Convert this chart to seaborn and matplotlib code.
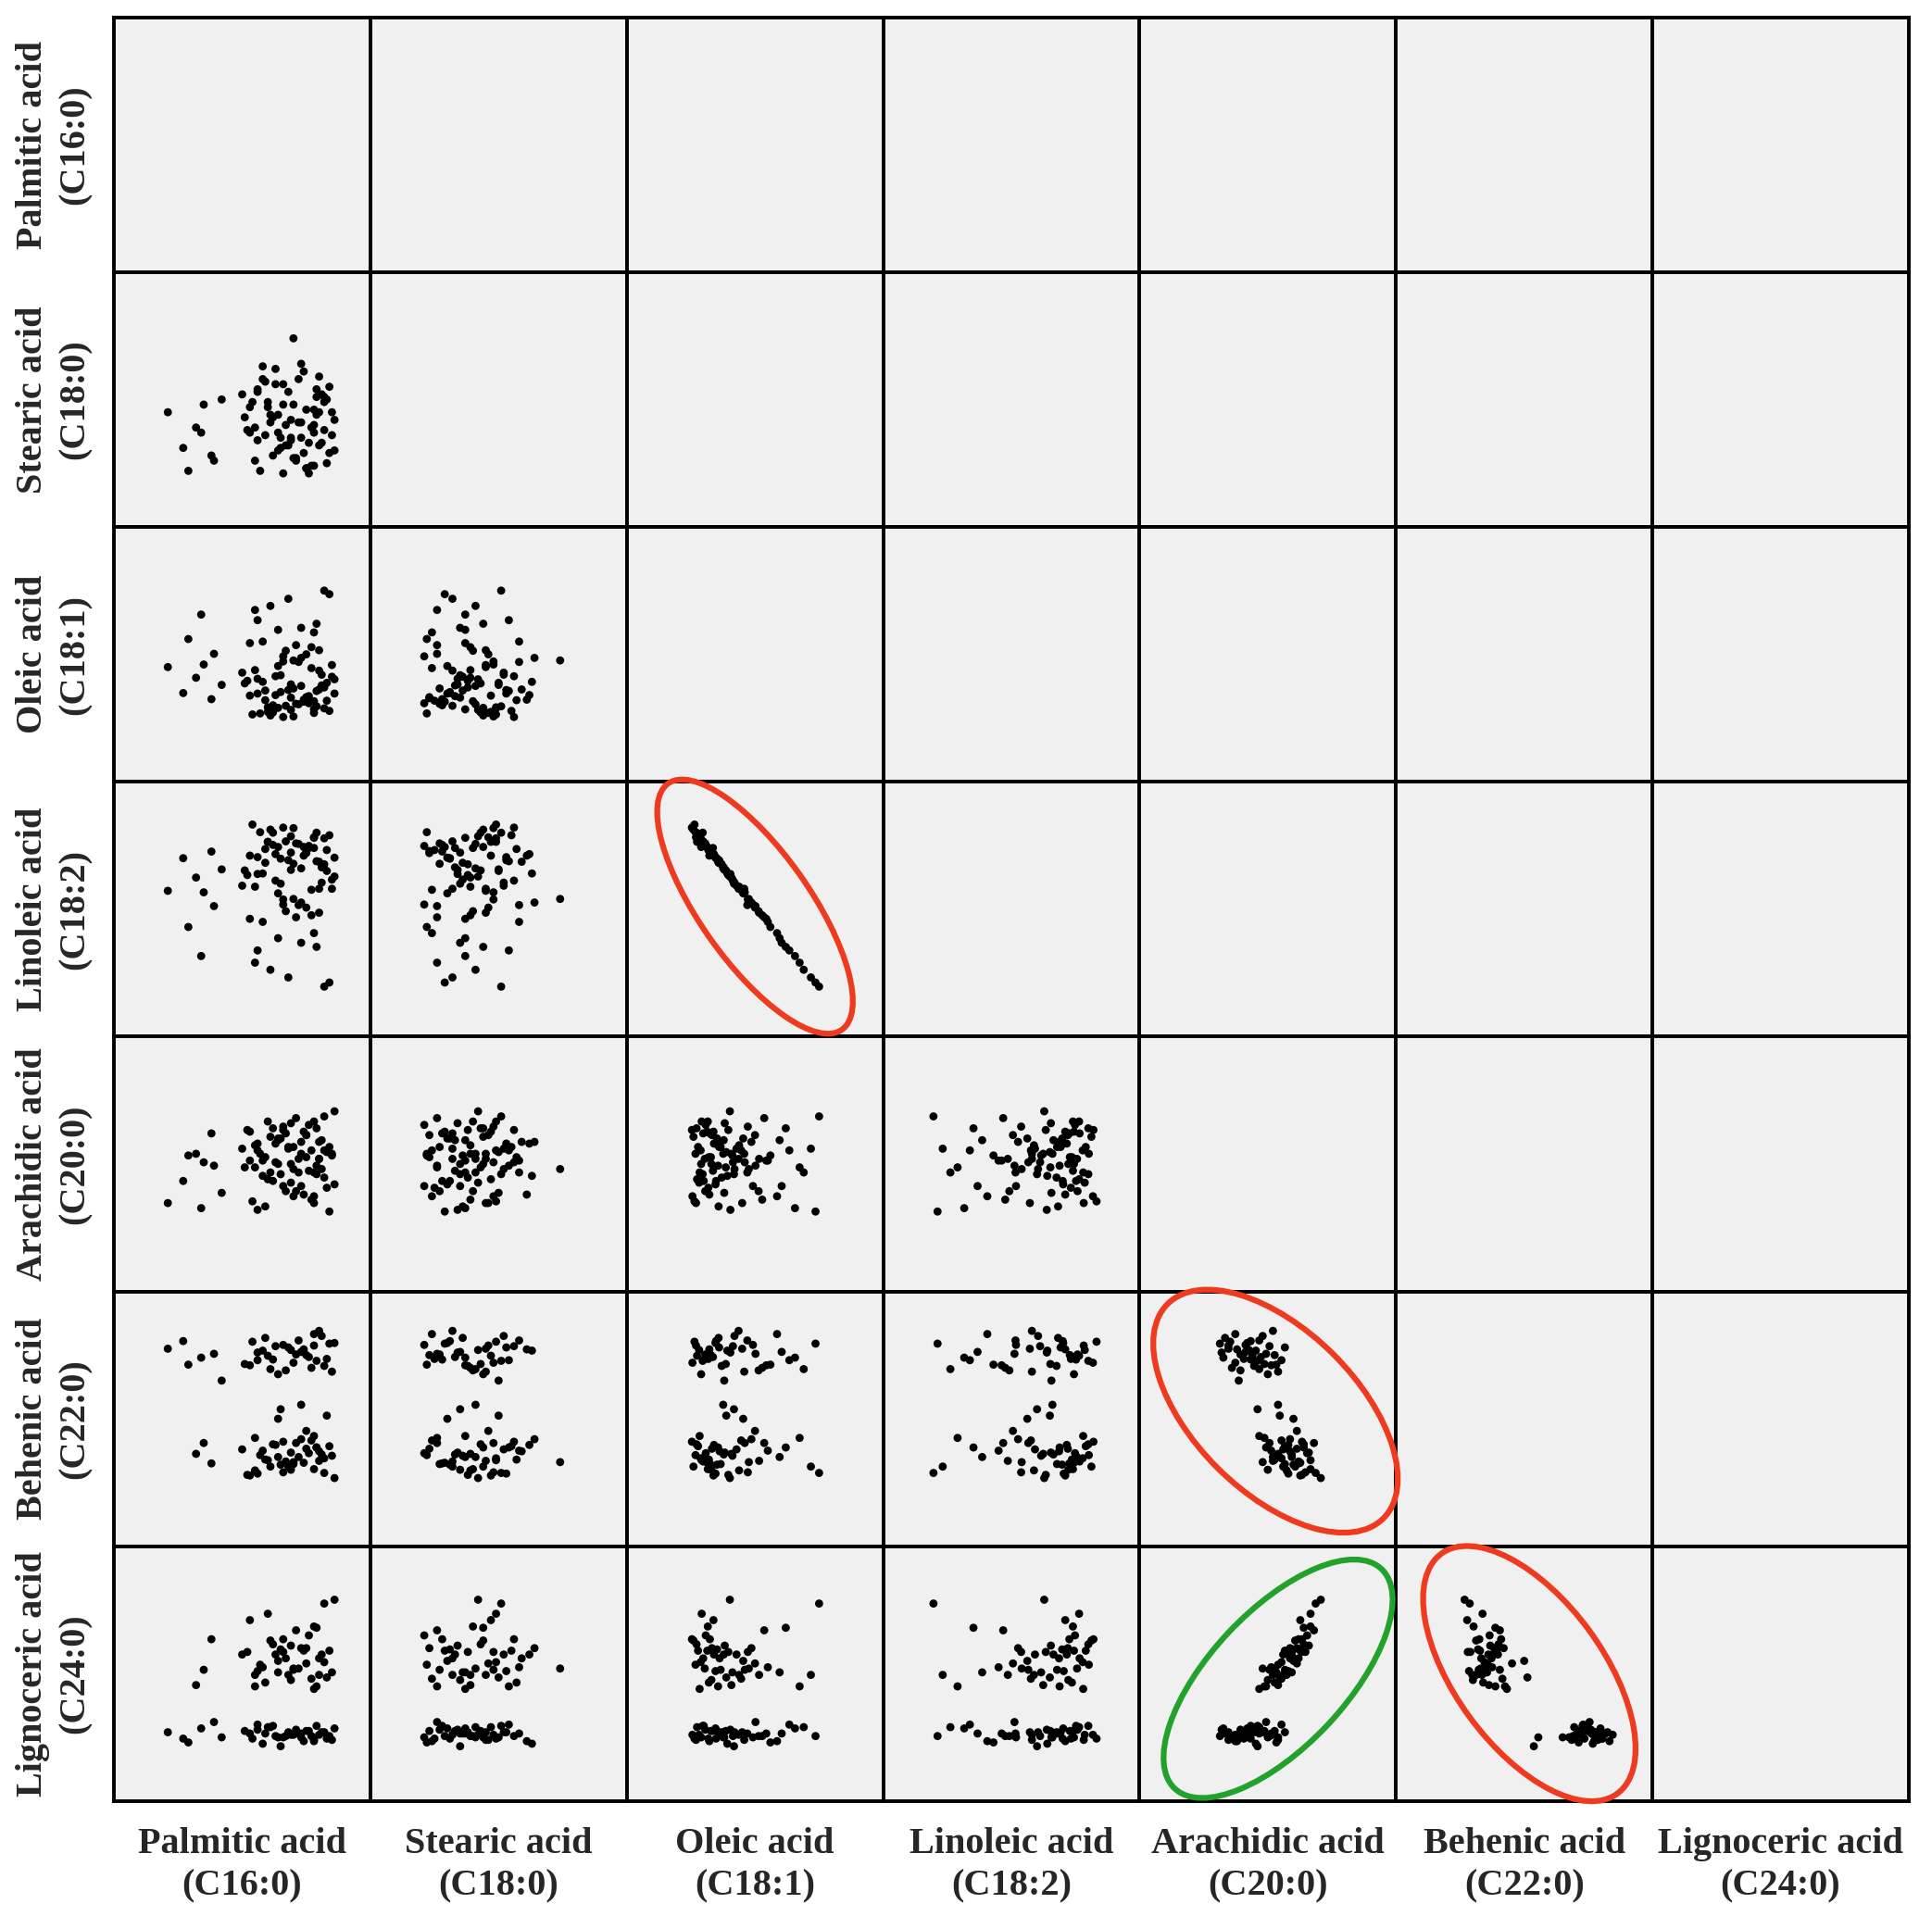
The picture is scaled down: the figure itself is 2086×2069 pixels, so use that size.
import pandas as pd
import seaborn as sns
import matplotlib.pyplot as plt
from matplotlib.patches import Ellipse

# fatty acid composition of each sample (first 42: high-behenic group, rest: high-lignoceric group)
palmitic = [7.1, 7.7, 8.4, 8.9, 9.2, 7.9, 12.3, 11.1, 13.4, 10.6,
            12.8, 11.9, 12.6, 10.4, 13.2, 11.3, 12.1, 13.5, 10.9, 12.9,
            11.6, 10.1, 12.4, 13.0, 11.0, 12.7, 11.8, 13.3, 10.6, 12.2,
            11.4, 13.6, 12.0, 10.8, 12.5, 11.7, 13.1, 11.2, 12.8, 10.3,
            12.3, 11.5,
            8.2, 8.8, 8.5, 11.8, 12.9, 10.5, 13.2, 11.4, 12.0, 12.2,
            11.5, 13.4, 10.2, 12.7, 11.0, 13.0, 11.9, 12.5, 10.7, 13.6,
            11.3, 12.4, 10.0, 12.8, 11.6, 13.1, 10.9, 12.1, 11.1, 13.3,
            12.6, 10.5, 12.9, 11.7, 12.3, 10.3, 13.5, 11.2, 12.0, 10.8,
            12.8, 11.4, 13.2, 11.9, 10.6, 12.5, 13.0, 11.6]

stearic = [2.25, 1.55, 1.85, 1.30, 2.50, 1.10, 1.75, 2.05, 1.45, 2.70,
           1.20, 2.10, 1.65, 2.45, 1.90, 2.80, 1.35, 2.25, 1.80, 2.55,
           1.05, 2.15, 3.05, 1.60, 2.35, 1.95, 2.65, 1.25, 1.70, 2.90,
           2.20, 1.50, 2.40, 3.15, 1.15, 2.00, 2.60, 1.40, 2.30, 1.85,
           2.05, 1.75,
           1.95, 1.40, 2.40, 1.60, 2.20, 1.30, 2.55, 1.85, 3.70, 2.05,
           1.55, 2.75, 1.90, 1.20, 2.45, 2.95, 1.75, 2.30, 1.10, 2.10,
           3.10, 1.45, 2.60, 1.85, 2.40, 1.65, 2.85, 1.30, 2.20, 2.50,
           1.05, 1.95, 2.70, 1.60, 3.20, 2.35, 1.80, 2.15, 1.35, 2.90,
           2.00, 1.50, 2.45, 1.70, 2.65, 1.15, 2.25, 2.80]

oleic = [52.5, 47.4, 62.8, 55.1, 49.0, 58.0, 60.2, 64.5, 66.8, 61.7,
         59.3, 44.1, 46.8, 43.2, 48.5, 50.7, 45.3, 52.9, 47.9, 44.8,
         54.6, 49.3, 46.1, 51.8, 43.7, 56.4, 48.0, 45.9, 50.2, 53.5,
         44.5, 47.3, 42.8, 49.6, 46.4, 55.7, 51.0, 45.0, 43.5, 57.2,
         48.8, 50.9,
         50.4, 46.2, 53.0, 65.9, 61.0, 63.7, 67.5, 59.8, 53.8, 45.2,
         47.6, 43.9, 49.8, 52.3, 44.6, 48.1, 46.5, 55.0, 43.4, 50.1,
         47.0, 45.7, 51.4, 44.2, 53.6, 48.9, 46.0, 56.8, 43.0, 49.4,
         45.4, 51.9, 47.8, 44.9, 54.3, 46.9, 50.6, 43.6, 48.3, 57.5,
         45.8, 52.7, 44.4, 49.1, 47.3, 46.6, 55.8, 42.7]

linoleic = [28.6, 35.0, 15.8, 25.6, 32.8, 21.5, 18.4, 13.1, 10.6, 16.9,
            20.3, 39.3, 37.0, 41.6, 33.8, 30.6, 37.9, 29.0, 34.1, 40.0,
            25.9, 32.6, 35.5, 29.0, 38.2, 23.8, 34.6, 36.6, 31.9, 25.8,
            37.2, 35.1, 40.9, 32.0, 36.4, 24.6, 30.2, 37.6, 39.1, 23.1,
            33.0, 30.0,
            31.2, 36.3, 28.3, 11.6, 17.6, 14.5, 9.8, 19.3, 27.0, 37.8,
            34.9, 39.5, 31.7, 28.8, 38.2, 34.3, 36.1, 25.3, 40.1, 31.4,
            35.8, 37.2, 29.6, 39.0, 26.9, 33.2, 36.8, 23.4, 40.6, 32.5,
            37.4, 29.4, 34.4, 38.3, 26.3, 35.5, 30.8, 40.0, 33.9, 22.5,
            37.0, 28.1, 38.9, 32.7, 35.2, 36.0, 24.3, 41.0]

arachidic = [1.02, 1.15, 0.99, 1.24, 1.08, 1.30, 1.12, 1.20, 0.97, 1.33,
             1.06, 1.14, 1.21, 1.03, 1.17, 1.26, 1.09, 1.31, 1.00, 1.19,
             1.12, 1.23, 1.07, 1.28, 1.16, 1.04, 1.35, 1.11, 0.98, 1.20,
             1.25, 1.13, 1.06, 1.18, 1.29, 1.09, 1.22, 1.15, 1.02, 1.27,
             1.31, 1.19,
             1.31, 1.43, 1.26, 1.34, 1.46, 1.23, 1.53, 1.39, 1.22, 1.28,
             1.40, 1.35, 1.45, 1.33, 1.50, 1.38, 1.25, 1.42, 1.31, 1.56,
             1.37, 1.44, 1.34, 1.20, 1.47, 1.39, 1.29, 1.52, 1.41, 1.32,
             1.48, 1.36, 1.24, 1.43, 1.38, 1.44, 1.30, 1.46, 1.35, 1.27,
             1.50, 1.40, 1.33, 1.49, 1.37, 1.42, 1.28, 1.45]

behenic = [4.10, 4.22, 3.96, 4.02, 3.60, 3.85, 4.05, 3.78, 4.18, 3.92,
           4.33, 4.08, 3.97, 4.21, 3.83, 4.14, 4.01, 3.74, 4.27, 3.91,
           4.16, 3.86, 4.09, 4.38, 3.99, 3.80, 4.12, 3.94, 4.04, 4.23,
           3.70, 4.19, 3.88, 4.07, 4.00, 3.76, 4.30, 3.93, 4.15, 3.84,
           3.22, 3.15,
           2.45, 2.30, 2.62, 2.25, 2.55, 2.70, 2.15, 2.40, 2.32, 2.40,
           2.28, 2.57, 2.12, 2.66, 2.35, 2.49, 2.20, 2.81, 2.43, 2.07,
           2.59, 2.31, 2.52, 2.73, 2.16, 2.44, 2.36, 2.62, 2.25, 3.05,
           2.46, 2.19, 2.55, 2.33, 2.68, 2.11, 2.42, 2.60, 2.29, 2.50,
           2.21, 3.00, 2.38, 2.47, 2.14, 2.53, 2.34, 2.64]

lignoceric = [1.04, 0.99, 1.07, 1.12, 1.00, 0.96, 1.03, 1.08, 1.01, 1.10,
              0.97, 1.02, 1.05, 0.99, 1.04, 1.01, 1.06, 0.98, 1.03, 1.09,
              1.00, 1.05, 0.97, 1.02, 1.08, 1.01, 1.04, 0.99, 1.06, 1.03,
              1.00, 1.07, 1.02, 0.95, 1.05, 1.01, 1.04, 1.09, 0.98, 1.03,
              1.00, 0.93,
              1.41, 1.77, 1.53, 1.49, 1.86, 1.40, 2.05, 1.51, 1.54, 1.54,
              1.69, 1.68, 1.67, 1.46, 1.97, 1.62, 1.45, 1.58, 1.57, 2.08,
              1.65, 1.68, 1.65, 1.38, 1.67, 1.65, 1.43, 1.84, 1.76, 1.47,
              1.80, 1.49, 1.40, 1.62, 1.70, 1.92, 1.51, 1.73, 1.53, 1.55,
              1.87, 1.60, 1.59, 1.72, 1.52, 1.70, 1.49, 1.77]

acids = ['Palmitic acid\n(C16:0)', 'Stearic acid\n(C18:0)', 'Oleic acid\n(C18:1)',
         'Linoleic acid\n(C18:2)', 'Arachidic acid\n(C20:0)', 'Behenic acid\n(C22:0)',
         'Lignoceric acid\n(C24:0)']
limits = [(5, 15), (0, 5), (30, 80), (0, 50), (0.5, 2.0), (1.0, 5.0), (0.5, 2.5)]

df = pd.DataFrame(dict(zip(acids, [palmitic, stearic, oleic, linoleic,
                                   arachidic, behenic, lignoceric])))

sns.set_style('white')
plt.rcParams['font.family'] = ['Liberation Serif', 'DejaVu Serif']

g = sns.PairGrid(df, vars=acids, height=2.98, aspect=1.0, despine=False)
g.map_lower(sns.scatterplot, color='black', s=40, edgecolor='none', linewidth=0)

fig = g.figure
fig.set_size_inches(20.86, 20.69)
fig.subplots_adjust(left=0.059, right=0.988, bottom=0.060, top=0.991,
                    wspace=0, hspace=0)

for i in range(len(acids)):
    for j in range(len(acids)):
        ax = g.axes[i, j]
        ax.set_facecolor('#f0f0f0')
        ax.set_xlim(limits[j])
        ax.set_ylim(limits[i])
        ax.set_xticks([])
        ax.set_yticks([])
        ax.set_xlabel('')
        ax.set_ylabel('')
        for sp in ax.spines.values():
            sp.set_color('black')
            sp.set_linewidth(2.8)

for k, name in enumerate(acids):
    g.axes[-1, k].set_xlabel(name, fontsize=29, fontweight='bold',
                             labelpad=20, linespacing=1.3)
    g.axes[k, 0].set_ylabel(name, fontsize=29, fontweight='bold',
                            labelpad=17, linespacing=1.3)

# highlighted relationships (row, col, centre, width, height, angle, colour)
red = '#ee3b1f'
green = '#22a22a'
rings = [
    (3, 2, (0.50, 0.51), 1.18, 0.43, -55, red),
    (5, 4, (0.53, 0.53), 1.19, 0.635, -45, red),
    (6, 4, (0.54, 0.48), 1.18, 0.53, 47, green),
    (6, 5, (0.52, 0.50), 1.165, 0.577, -54, red),
]
for r, c, xy, w, h, ang, col in rings:
    ax = g.axes[r, c]
    fig.add_artist(Ellipse(xy, w, h, angle=ang, transform=ax.transAxes,
                           fill=False, edgecolor=col, linewidth=4.5, zorder=5))

fig.savefig('out.png', dpi=100)
